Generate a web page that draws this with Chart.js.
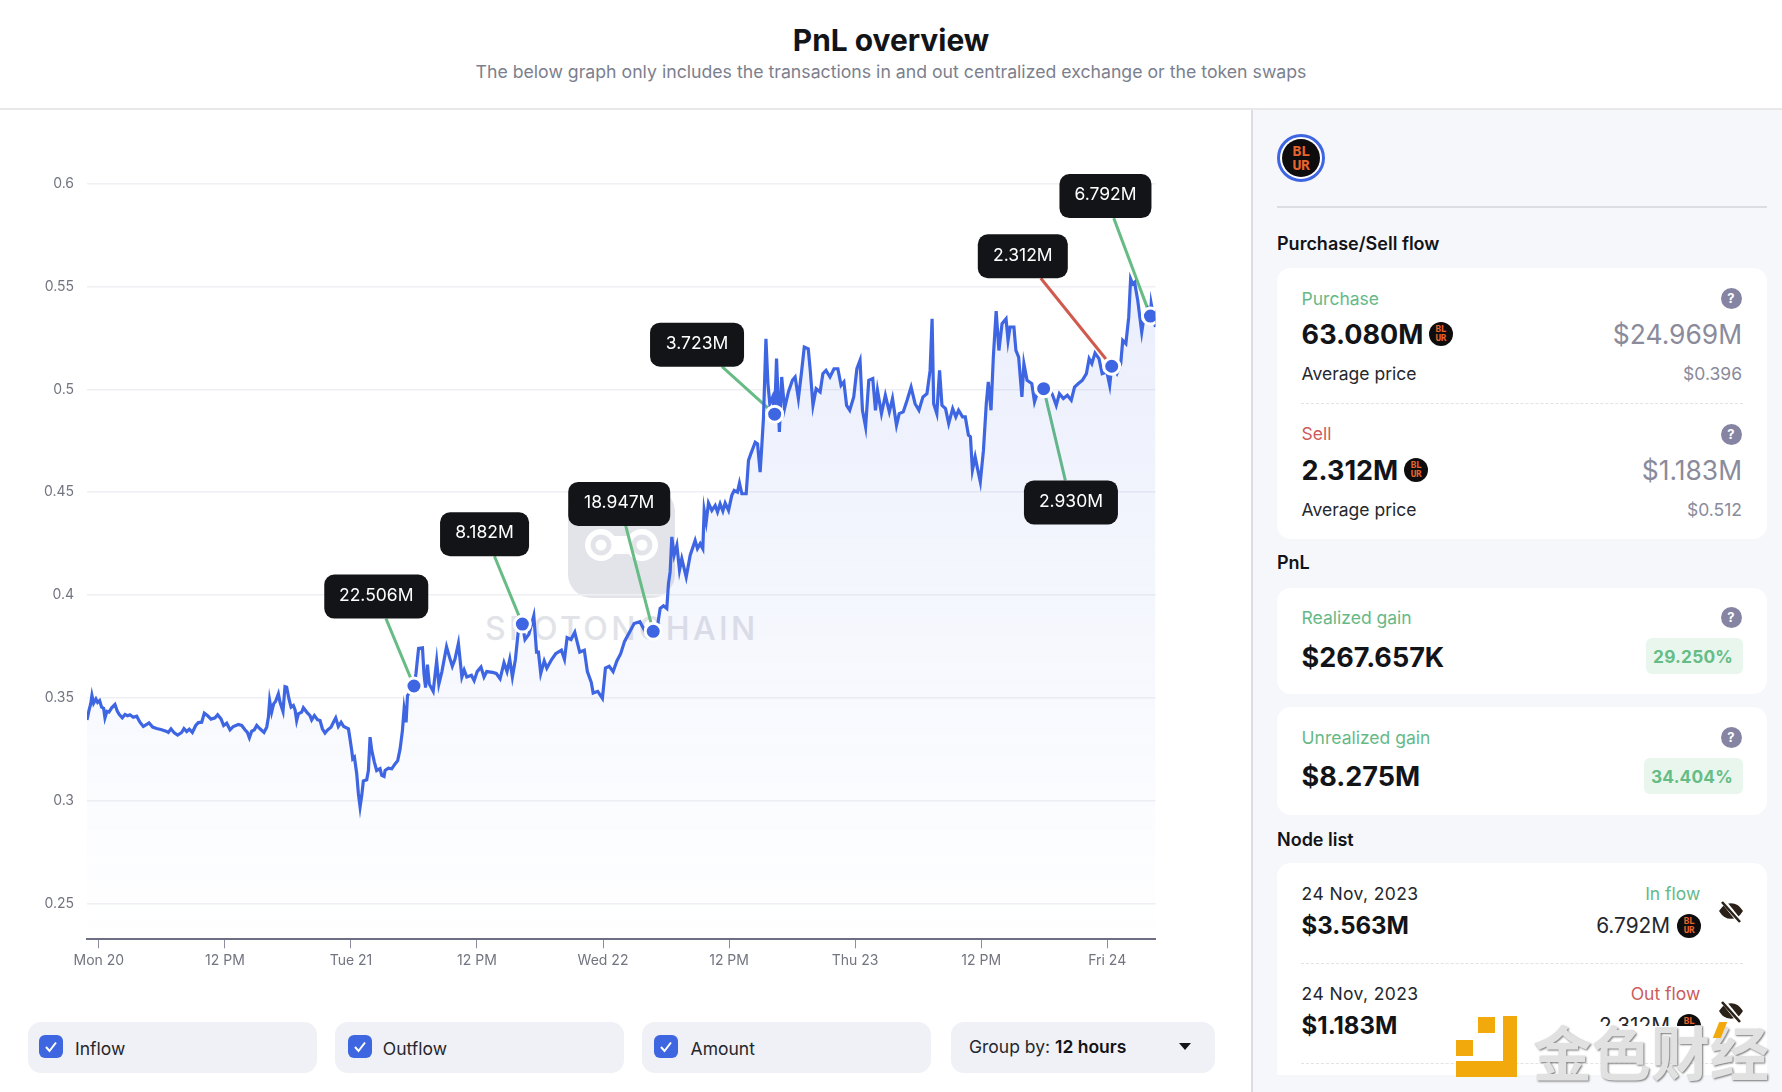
<!DOCTYPE html>
<html>
<head>
<meta charset="utf-8">
<title>PnL overview</title>
<script src="https://cdn.jsdelivr.net/npm/chart.js@4/dist/chart.umd.min.js"></script>
<style>
  html, body { margin:0; padding:0; background:#fff; }
  body { position:relative; width:1782px; height:1092px; overflow:hidden; font-family:Inter, "Noto Sans", sans-serif; color:#121417; }
  .abs { position:absolute; }
  .t { position:absolute; white-space:nowrap; transform:translateY(-50%); line-height:1; }
  #head { left:0; top:0; width:1782px; height:108px; border-bottom:2px solid #e8e8ea; }
  #side { left:1251px; top:110px; width:531px; height:982px; background:#f6f7fb; border-left:2px solid #dcdde2; box-sizing:border-box; }
  .card { position:absolute; left:1277px; width:490px; background:#fff; border-radius:14px; }
  .dash { position:absolute; left:1301px; width:442px; border-top:1px dashed #e2e2e7; }
  .box { position:absolute; top:1022px; height:51px; background:#f0f1f6; border-radius:13px; }
  .chk { position:absolute; top:1035px; width:24px; height:23px; background:#3e66e0; border-radius:6px; }
  canvas { position:absolute; left:0; top:110px; z-index:2; }
  #mark { z-index:1; }
</style>
</head>
<body>
<div id="head" class="abs"></div>
<div id="side" class="abs"></div>
<div id="mark" class="abs" style="left:0;top:0">
  <svg class="abs" style="left:560px;top:480px" width="125" height="125">
    <rect x="8" y="8" width="107" height="110" rx="24" fill="#e3e4e9"/>
    <rect x="41" y="56" width="41" height="18" fill="#fff"/>
    <circle cx="41" cy="65" r="16" fill="#fff"/><circle cx="82" cy="65" r="16" fill="#fff"/>
    <circle cx="41" cy="65" r="8" fill="none" stroke="#e3e4e9" stroke-width="5"/><circle cx="82" cy="65" r="8" fill="none" stroke="#e3e4e9" stroke-width="5"/>
  </svg>
  <div class="t" style="left:485px;top:629px;font-size:32px;font-weight:500;color:#e2e3e8;letter-spacing:3.4px">SPOTONCHAIN</div>
</div>
<canvas id="pnlChart" width="1252" height="880" style="width:1252px;height:880px"></canvas>

<script>
"use strict";
const BLUE  = "#3f66e2";
const GREEN = "#66bc84";
const RED   = "#d05a4e";
const DARK  = "#121417";

// hours since Mon 20 00:00, token price
const pnl = [
  [-1.13,.3392],[-.94,.3438],[-.78,.3470],[-.66,.3511],[-.50,.3473],[-.28,.3494],[-.12,.3477],[.07,.3486],[.26,.3454],[.45,.3449],
  [.58,.3402],[.77,.3434],[.96,.3430],[1.22,.3451],[1.53,.3467],[1.76,.3434],[1.95,.3418],[2.23,.3402],[2.49,.3418],[2.74,.3412],
  [2.96,.3417],[3.28,.3405],[3.60,.3410],[3.91,.3381],[4.23,.3360],[4.55,.3370],[4.77,.3378],[5.12,.3357],[5.50,.3350],[5.98,.3344],
  [6.45,.3336],[6.61,.3331],[6.87,.3349],[7.18,.3329],[7.50,.3318],[7.88,.3331],[8.10,.3350],[8.36,.3336],[8.61,.3347],[8.90,.3331],
  [9.22,.3365],[9.47,.3379],[9.79,.3381],[10.04,.3425],[10.36,.3412],[10.68,.3396],[11.06,.3402],[11.31,.3417],[11.63,.3397],[11.88,.3365],
  [12.17,.3376],[12.49,.3344],[12.80,.3360],[13.28,.3370],[13.60,.3365],[13.91,.3344],[14.14,.3331],[14.33,.3305],[14.55,.3337],[14.80,.3344],
  [15.03,.3365],[15.34,.3349],[15.72,.3331],[15.98,.3357],[16.14,.3405],[16.26,.3486],[16.45,.3430],[16.64,.3470],[16.83,.3483],[17.09,.3519],
  [17.25,.3478],[17.53,.3434],[17.72,.3554],[17.88,.3551],[18.10,.3494],[18.30,.3454],[18.52,.3462],[18.68,.3441],[18.83,.3389],[18.99,.3422],
  [19.31,.3430],[19.47,.3451],[19.79,.3430],[20.10,.3413],[20.26,.3392],[20.52,.3413],[20.83,.3392],[21.06,.3389],[21.28,.3349],[21.53,.3328],
  [21.79,.3344],[22.10,.3357],[22.33,.3381],[22.55,.3402],[22.80,.3360],[23.06,.3381],[23.31,.3360],[23.76,.3349],[23.91,.3300],[24.07,.3244],
  [24.17,.3203],[24.33,.3211],[24.55,.3130],[24.71,.3033],[24.87,.2969],[25.03,.3025],[25.18,.3095],[25.50,.3101],[25.66,.3146],[25.82,.3308],
  [25.98,.3244],[26.23,.3187],[26.45,.3146],[26.77,.3155],[26.93,.3122],[27.15,.3117],[27.25,.3146],[27.57,.3157],[27.88,.3154],[28.20,.3178],
  [28.45,.3194],[28.68,.3251],[28.90,.3340],[29.06,.3445],[29.25,.3380],[29.38,.3510],[30.00,.3557],[30.19,.3618],[30.44,.3740],[30.81,.3743],
  [30.95,.3618],[31.10,.3549],[31.28,.3661],[31.46,.3566],[31.83,.3531],[32.16,.3679],[32.37,.3566],[32.66,.3627],[33.10,.3748],[33.39,.3696],
  [33.65,.3653],[33.90,.3687],[34.23,.3764],[34.56,.3601],[34.78,.3635],[35.03,.3601],[35.47,.3609],[35.73,.3583],[36.02,.3627],[36.38,.3649],
  [36.67,.3601],[36.93,.3627],[37.48,.3623],[37.84,.3618],[38.20,.3592],[38.57,.3670],[38.86,.3627],[39.12,.3687],[39.37,.3601],[39.66,.3687],
  [39.92,.3818],[40.32,.3858],[40.57,.3783],[40.94,.3809],[41.41,.3899],[41.67,.3722],[41.85,.3722],[42.07,.3618],[42.40,.3679],[42.65,.3644],
  [43.12,.3687],[43.49,.3714],[44.04,.3731],[44.33,.3687],[44.58,.3792],[44.95,.3783],[45.31,.3818],[45.78,.3722],[46.22,.3731],[46.51,.3627],
  [46.88,.3575],[47.06,.3523],[47.50,.3531],[47.94,.3497],[48.23,.3644],[48.59,.3653],[48.96,.3627],[49.32,.3679],[49.68,.3714],[50.05,.3774],
  [50.52,.3818],[50.96,.3861],[51.51,.3870],[52.05,.3818],[52.78,.3823],[53.22,.3861],[53.44,.3934],[53.76,.3947],[54.07,.3934],[54.23,.4055],
  [54.39,.4112],[54.55,.4282],[54.77,.4193],[55.03,.4241],[55.28,.4120],[55.50,.4176],[55.92,.4087],[56.30,.4193],[56.77,.4265],[56.99,.4225],
  [57.25,.4249],[57.50,.4225],[57.63,.4411],[57.82,.4354],[58.04,.4447],[58.36,.4411],[58.68,.4435],[58.90,.4403],[59.15,.4443],[59.41,.4408],
  [59.63,.4447],[59.95,.4411],[60.26,.4484],[60.49,.4508],[60.80,.4500],[60.99,.4544],[61.22,.4492],[61.63,.4492],[61.85,.4654],[62.07,.4686],
  [62.49,.4743],[62.71,.4735],[62.96,.4597],[63.13,.4736],[63.28,.4866],[63.51,.5246],[63.70,.5028],[63.88,.4930],[64.15,.4963],[64.34,.4879],
  [64.52,.5149],[64.79,.4793],[65.01,.5060],[65.28,.4906],[65.65,.4987],[66.03,.5044],[66.29,.5060],[66.60,.4955],[66.90,.5084],[67.16,.5205],
  [67.54,.5197],[67.73,.5092],[67.99,.4922],[68.29,.5003],[68.67,.4987],[68.93,.5076],[69.23,.5092],[69.61,.5060],[69.99,.5100],[70.36,.5100],
  [70.66,.5019],[70.93,.5036],[71.19,.4922],[71.49,.4898],[71.87,.4963],[72.17,.5100],[72.47,.5141],[72.70,.4898],[73.00,.4817],[73.30,.5044],
  [73.68,.5052],[73.94,.4898],[74.13,.4995],[74.51,.4882],[74.88,.4971],[75.26,.4890],[75.56,.4955],[75.94,.4825],[76.20,.4882],[76.58,.4890],
  [76.95,.4947],[77.33,.5011],[77.71,.4930],[78.08,.4898],[78.46,.4963],[78.84,.4979],[79.14,.5092],[79.33,.5343],[79.48,.4930],[79.78,.4882],
  [80.04,.5092],[80.27,.4922],[80.61,.4906],[80.91,.4833],[81.29,.4906],[81.59,.4866],[81.85,.4898],[82.23,.4866],[82.49,.4866],[82.79,.4777],
  [82.98,.4769],[83.17,.4607],[83.43,.4672],[83.62,.4623],[83.92,.4550],[84.22,.4704],[84.49,.4930],[84.68,.5036],[84.94,.4898],[85.16,.5157],
  [85.43,.5380],[85.69,.5189],[85.99,.5319],[86.37,.5343],[86.56,.5238],[86.75,.5303],[87.12,.5303],[87.31,.5189],[87.57,.5157],[87.88,.4963],
  [88.07,.5125],[88.37,.5044],[88.82,.5028],[89.08,.4939],[89.38,.4987],[89.95,.5003],[90.51,.5003],[90.81,.4971],[91.15,.4922],[91.45,.4979],
  [91.83,.4955],[92.21,.4971],[92.58,.4947],[92.89,.5011],[93.26,.5028],[93.64,.5044],[94.02,.5076],[94.28,.5149],[94.54,.5125],[94.84,.5176],
  [95.22,.5149],[95.52,.5076],[95.97,.5084],[96.24,.5019],[96.43,.5112],[96.92,.5076],[97.29,.5125],[97.48,.5238],[97.78,.5222],[98.05,.5351],
  [98.23,.5537],[98.42,.5513],[98.61,.5521],[98.91,.5432],[99.29,.5278],[99.55,.5367],[99.85,.5392],[100.12,.5356],[100.19,.5416],[100.60,.5303]
];

// buy/sell nodes: dx,dy = label centre relative to the node, ax = where the connector leaves the label
const nodes = [
  { h:30.00,  p:.3557, label:"22.506M", color:GREEN, dx:-37.7, dy:-89.4,  w:104, ax:9.7  },
  { h:40.32,  p:.3858, label:"8.182M",  color:GREEN, dx:-37.8, dy:-89.9,  w:89,  ax:9.9  },
  { h:52.78,  p:.3823, label:"18.947M", color:GREEN, dx:-34,   dy:-127.4, w:102, ax:6.5  },
  { h:64.34,  p:.4879, label:"3.723M",  color:GREEN, dx:-77.6, dy:-69.5,  w:94,  ax:25   },
  { h:89.95,  p:.5003, label:"2.930M",  color:GREEN, dx:27.3,  dy:113.7,  w:94,  ax:-5.6 },
  { h:96.43,  p:.5112, label:"2.312M",  color:RED,   dx:-88.9, dy:-110,   w:90,  ax:18   },
  { h:100.12, p:.5356, label:"6.792M",  color:GREEN, dx:-45,   dy:-120,   w:92,  ax:8.3  }
];

const dayLabels = { 0:"Mon 20", 12:"12 PM", 24:"Tue 21", 36:"12 PM", 48:"Wed 22", 60:"12 PM", 72:"Thu 23", 84:"12 PM", 96:"Fri 24" };

function nodeXY(chart, n) {
  return { x: chart.scales.x.getPixelForValue(n.h), y: chart.scales.y.getPixelForValue(n.p) };
}

const nodeLines = {
  id: "nodeLines",
  beforeDatasetsDraw(chart) {
    const c = chart.ctx;
    nodes.forEach(n => {
      const o = nodeXY(chart, n);
      const below = n.dy > 0;
      c.save();
      c.strokeStyle = n.color;
      c.lineWidth = 3;
      c.beginPath();
      c.moveTo(o.x + n.dx + n.ax, o.y + n.dy + (below ? -22 : 22));
      c.lineTo(o.x, o.y);
      c.stroke();
      c.restore();
    });
  }
};

const nodeLabels = {
  id: "nodeLabels",
  afterDatasetsDraw(chart) {
    const c = chart.ctx;
    nodes.forEach(n => {
      const o = nodeXY(chart, n);
      const cx = o.x + n.dx, cy = o.y + n.dy;
      c.save();
      c.fillStyle = DARK;
      c.beginPath();
      c.roundRect(cx - n.w / 2, cy - 22, n.w, 44, 10);
      c.fill();
      c.fillStyle = "#fff";
      c.font = "17.5px Inter";
      c.textAlign = "center";
      c.textBaseline = "middle";
      c.fillText(n.label, cx, cy - 1);
      c.restore();
    });
  }
};

const ctx = document.getElementById("pnlChart").getContext("2d");
const fill = ctx.createLinearGradient(0, 74, 0, 830);
fill.addColorStop(0, "rgba(63,102,226,0.12)");
fill.addColorStop(1, "rgba(63,102,226,0)");

new Chart(ctx, {
  type: "line",
  data: {
    datasets: [
      { label:"Nodes", data: nodes.map(n=>({x:n.h, y:n.p})), showLine:false, pointRadius:8, pointBorderWidth:3,
        pointBackgroundColor:BLUE, pointBorderColor:"#fff", order:0 },
      { label:"Price", data: pnl.map(r=>({x:r[0], y:r[1]})), borderColor:BLUE, borderWidth:3.2, backgroundColor:fill,
        fill:"start", tension:0, pointRadius:0, borderJoinStyle:"miter", order:1 }
    ]
  },
  options: {
    responsive:false,
    animation:false,
    layout:{ padding:{ top:73.7, right:96.5, left:0, bottom:0 } },
    plugins:{ legend:{ display:false }, tooltip:{ enabled:false } },
    scales:{
      x:{
        type:"linear", min:-1.13, max:100.6,
        afterBuildTicks(s){ s.ticks = Object.keys(dayLabels).map(k=>({ value:+k })); },
        afterFit(s){ s.height = 50.7; },
        border:{ color:"#6e6f82", width:2 },
        grid:{ drawOnChartArea:false, tickLength:9, tickColor:"#8d8e9e", tickWidth:1 },
        ticks:{ color:"#72747f", font:{ family:"Inter", size:14 }, maxRotation:0, autoSkip:false, padding:4, callback:v=>dayLabels[v] }
      },
      y:{
        min:.2325, max:.6,
        afterBuildTicks(s){ s.ticks = [.25,.3,.35,.4,.45,.5,.55,.6].map(v=>({ value:v })); },
        afterFit(s){ s.width = 87; },
        border:{ display:false },
        grid:{ color:"#eff0f3", lineWidth:1.4, drawTicks:false },
        ticks:{ color:"#72747f", font:{ family:"Inter", size:14 }, padding:13, callback:v=>String(+v.toFixed(2)) }
      }
    }
  },
  plugins:[nodeLines, nodeLabels]
});

// page furniture around the chart
function txt(s, x, y, size, color, weight, right) {
  const d = document.createElement("div");
  d.className = "t";
  d.textContent = s;
  d.style.cssText = `top:${y+1}px;font-size:${size}px;color:${color};font-weight:${weight||400};` +
    (right ? `right:${1782-x}px;` : `left:${x}px;`);
  document.body.appendChild(d);
  return d;
}
function el(cls, css, html) {
  const d = document.createElement("div");
  d.className = cls;
  d.style.cssText = css;
  if (html) d.innerHTML = html;
  document.body.appendChild(d);
  return d;
}
function token(cx, cy, r) {
  el("abs", `left:${cx-r}px;top:${cy-r}px;width:${2*r}px;height:${2*r}px;border-radius:50%;background:#0e0c0c;color:#e8642c;` +
    `font:700 ${r*.78}px/${r*.74}px "DejaVu Sans Mono",monospace;text-align:center;display:flex;align-items:center;justify-content:center;letter-spacing:-.5px`,
    "<span>BL<br>UR</span>");
}
function hint(cx, cy) {
  el("abs", `left:${cx-10.5}px;top:${cy-10.5}px;width:21px;height:21px;border-radius:50%;background:#8585a3;color:#fff;` +
    `font:700 13px/21px Inter;text-align:center`, "?");
}
function eyeOff(cx, cy) {
  el("abs", `left:${cx-12}px;top:${cy-12}px;width:24px;height:24px`,
    `<svg width="24" height="24" viewBox="0 0 24 24"><path d="M1 11c3-5 7-7 11-7s8 2 11 7c-3 5-7 7-11 7S4 16 1 11z" fill="#2b2118" stroke="#2b2118" stroke-width="1.5"/><circle cx="12" cy="11" r="2.4" fill="#fff"/><path d="M4 1l17 21" stroke="#fff" stroke-width="5"/><path d="M3 2l18 20" stroke="#2b2118" stroke-width="2.6"/></svg>`);
}

const title = txt("PnL overview", 0, 39.5, 29.9, DARK, 700);
title.style.left = "0"; title.style.width = "1782px"; title.style.textAlign = "center";
const sub = txt("The below graph only includes the transactions in and out centralized exchange or the token swaps", 0, 71, 17.7, "#7c7f8e");
sub.style.left = "0"; sub.style.width = "1782px"; sub.style.textAlign = "center";

// controls under the chart
[[28,288.6],[335,289.4],[642,289.4],[950.6,264.7]].forEach(b => el("box", `left:${b[0]}px;width:${b[1]}px`));
[[39,"Inflow",75],[347.7,"Outflow",382.8],[654,"Amount",690.6]].forEach(c => {
  el("chk", `left:${c[0]}px`, `<svg width="24" height="23"><path d="M7 12l3.5 4L17 7.5" fill="none" stroke="#fff" stroke-width="2"/></svg>`);
  txt(c[1], c[2], 1048, 17.5, "#25272d");
});
const grp = txt("Group by: ", 969, 1046, 17.5, "#25272d");
grp.innerHTML = 'Group by: <b style="font-weight:600;color:#121417">12 hours</b>';
el("abs", "left:1179px;top:1043px;width:0;height:0;border-left:6px solid transparent;border-right:6px solid transparent;border-top:7px solid #121417");

// side panel
el("abs", "left:1277px;top:133.7px;width:48px;height:48px;box-sizing:border-box;border-radius:50%;border:3px solid #3f66e2;background:#fff");
token(1301, 157.7, 19);
el("abs", "left:1277px;top:206px;width:490px;height:2px;background:#dcdde3");

txt("Purchase/Sell flow", 1277, 243, 18, DARK, 600);
el("card", "top:268px;height:271px");
txt("Purchase", 1301.6, 297.7, 17.5, "#65b987"); hint(1731, 298);
txt("63.080M", 1301.6, 333, 27, DARK, 700); token(1440.7, 334, 12);
txt("$24.969M", 1742, 333, 26.4, "#8a8b9b", 400, true);
txt("Average price", 1301.6, 372.7, 17.5, "#25272d");
txt("$0.396", 1742, 372.7, 17.5, "#8a8b9b", 400, true);
el("dash", "top:403px");
txt("Sell", 1301.6, 433, 17.5, "#cc5b5b"); hint(1731, 434);
txt("2.312M", 1301.6, 469, 27, DARK, 700); token(1416, 469.5, 12);
txt("$1.183M", 1742, 469, 26.4, "#8a8b9b", 400, true);
txt("Average price", 1301.6, 508.7, 17.5, "#25272d");
txt("$0.512", 1742, 508.7, 17.5, "#8a8b9b", 400, true);

txt("PnL", 1277, 562, 18, DARK, 600);
[[587.5,106.5,"Realized gain",616.8,"$267.657K",655.5,"29.250%",1646.3,638],[707,107.6,"Unrealized gain",736.5,"$8.275M",775,"34.404%",1643.6,758]].forEach(g => {
  el("card", `top:${g[0]}px;height:${g[1]}px`);
  txt(g[2], 1301.6, g[3], 17.5, "#65b987"); hint(1731, g[3] + 1);
  txt(g[4], 1301.6, g[5], 27, DARK, 700);
  el("abs", `left:${g[7]}px;top:${g[8]}px;width:${1742.7-g[7]}px;height:35.7px;background:#e8f6ee;border-radius:6px`);
  txt(g[6], 1733, g[8]+17.5, 17.3, "#65bd85", 700, true).style.letterSpacing = ".2px";
});

txt("Node list", 1277, 838.6, 18, DARK, 600);
el("card", "top:863px;height:211.5px;border-radius:14px 14px 0 0");
[[892.8,"In flow","#65b987","$3.563M",925,"6.792M",911.5],[992.8,"Out flow","#cc5b5b","$1.183M",1025,"2.312M",1011.8]].forEach(r => {
  txt("24 Nov, 2023", 1301.6, r[0], 17.5, "#25272d").style.letterSpacing = ".4px";
  txt(r[1], 1700.3, r[0], 17.5, r[2], 400, true);
  txt(r[3], 1301.6, r[4], 24, DARK, 700);
  txt(r[5], 1670, r[4], 20.8, "#25272d", 400, true);
  token(1689, r[4] + .6, 12);
  eyeOff(1731, r[6]);
});
el("dash", "top:962.5px");
el("dash", "top:1063px");

// source watermark, bottom right
el("abs", "left:1590px;top:1026px;width:112px;height:32px;background:#fff;z-index:4");
el("abs", "left:1456px;top:1016px;width:61px;height:61px;z-index:5",
  `<svg width="61" height="61"><path d="M47 0h14v61H0V45h47z" fill="#f2a90c"/><rect x="22" y="1" width="17" height="16" fill="#f2a90c"/><rect x="0" y="24" width="17" height="16" fill="#f2a90c"/></svg>`);
const wm = txt("金色财经", 1533, 1049, 59, "#e1e1e1", 700);
wm.style.fontFamily = '"Noto Sans CJK SC"';
wm.style.zIndex = 5;
wm.style.textShadow = "1px 1px 2px #777";
el("abs", "left:1716px;top:1022px;width:8px;height:16px;background:#f2a90c;transform:skewX(-22deg);z-index:6");
</script>
</body>
</html>
